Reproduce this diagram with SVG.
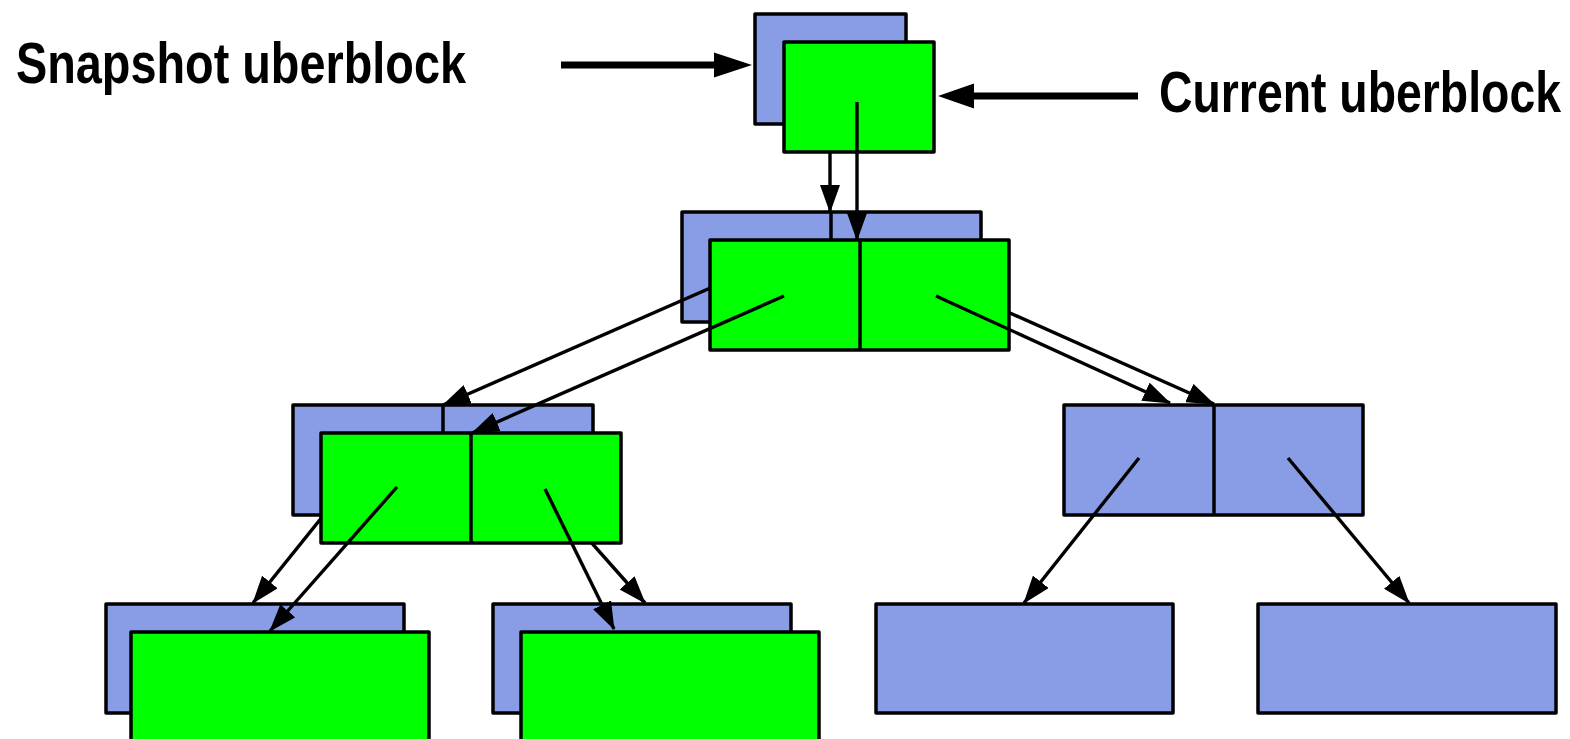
<svg xmlns="http://www.w3.org/2000/svg" width="1570" height="739" viewBox="0 0 1570 739">
<defs>
<style>
.b{fill:#889de6;stroke:#000;stroke-width:3.5;stroke-linejoin:round}
.g{fill:#00ff00;stroke:#000;stroke-width:3.5;stroke-linejoin:round}
.d{stroke:#000;stroke-width:3.5}
.p{stroke:#000;stroke-width:3.4;fill:none;marker-end:url(#ah)}
.big{stroke:#000;stroke-width:7;fill:none}
.lbl{font-family:"Liberation Sans",Arial,sans-serif;font-weight:bold;font-size:57px;fill:#000}
</style>
<marker id="ah" markerUnits="userSpaceOnUse" markerWidth="28" markerHeight="20" viewBox="0 0 28 20" refX="27" refY="10" orient="auto">
<path d="M0,0 L28,10 L0,20 z" fill="#000"/>
</marker>
</defs>
<rect width="1570" height="739" fill="#fff"/>

<g id="label-snapshot">
<text class="lbl" x="16" y="83" textLength="450" lengthAdjust="spacingAndGlyphs">Snapshot uberblock</text>
</g>
<g id="label-current">
<text class="lbl" x="1159" y="112" textLength="402" lengthAdjust="spacingAndGlyphs">Current uberblock</text>
</g>

<g id="snap-uber"><rect class="b" x="755" y="14" width="151" height="110"/></g>
<g id="snap-l2"><rect class="b" x="682" y="212" width="299" height="110"/><line class="d" x1="831" y1="212" x2="831" y2="322"/></g>
<g id="snap-l3a"><rect class="b" x="293" y="405" width="300" height="110"/><line class="d" x1="443" y1="405" x2="443" y2="515"/></g>
<g id="snap-l3b"><rect class="b" x="1064" y="405" width="299" height="110"/><line class="d" x1="1214" y1="405" x2="1214" y2="515"/></g>
<g id="snap-l4a"><rect class="b" x="106" y="604" width="298" height="109"/></g>
<g id="snap-l4b"><rect class="b" x="493" y="604" width="298" height="109"/></g>
<g id="snap-l4c"><rect class="b" x="876" y="604" width="297" height="109"/></g>
<g id="snap-l4d"><rect class="b" x="1258" y="604" width="298" height="109"/></g>

<g id="snap-connectors">
<line class="p" x1="830" y1="74" x2="830" y2="212"/>
<line class="p" x1="756" y1="268" x2="443" y2="405"/>
<line class="p" x1="907" y1="267" x2="1214" y2="404"/>
<line class="p" x1="368" y1="460" x2="253" y2="603"/>
<line class="p" x1="518" y1="460" x2="645" y2="603"/>
<line class="p" x1="1139" y1="458" x2="1024" y2="603"/>
<line class="p" x1="1288" y1="458" x2="1409" y2="603"/>
</g>

<g id="cur-uber"><rect class="g" x="784" y="42" width="150" height="110"/></g>
<g id="cur-l2"><rect class="g" x="710" y="240" width="299" height="110"/><line class="d" x1="860" y1="240" x2="860" y2="350"/></g>
<g id="cur-l3"><rect class="g" x="321" y="433" width="300" height="110"/><line class="d" x1="471" y1="433" x2="471" y2="543"/></g>
<g id="cur-l4a"><rect class="g" x="131" y="632" width="298" height="120"/></g>
<g id="cur-l4b"><rect class="g" x="521" y="632" width="298" height="120"/></g>

<g id="connectors">
<line class="p" x1="857" y1="102" x2="857" y2="240"/>
<line class="p" x1="784" y1="296" x2="472" y2="433"/>
<line class="p" x1="936" y1="296" x2="1170" y2="403"/>
<line class="p" x1="397" y1="487" x2="270" y2="631"/>
<line class="p" x1="545" y1="489" x2="614" y2="629"/>
<line class="big" x1="561" y1="65" x2="716" y2="65"/>
<path d="M752,65 L714,52.5 L714,77.5 z" fill="#000"/>
<line class="big" x1="1138" y1="96" x2="972" y2="96"/>
<path d="M938,96 L974,83.5 L974,108.5 z" fill="#000"/>
</g>
</svg>
